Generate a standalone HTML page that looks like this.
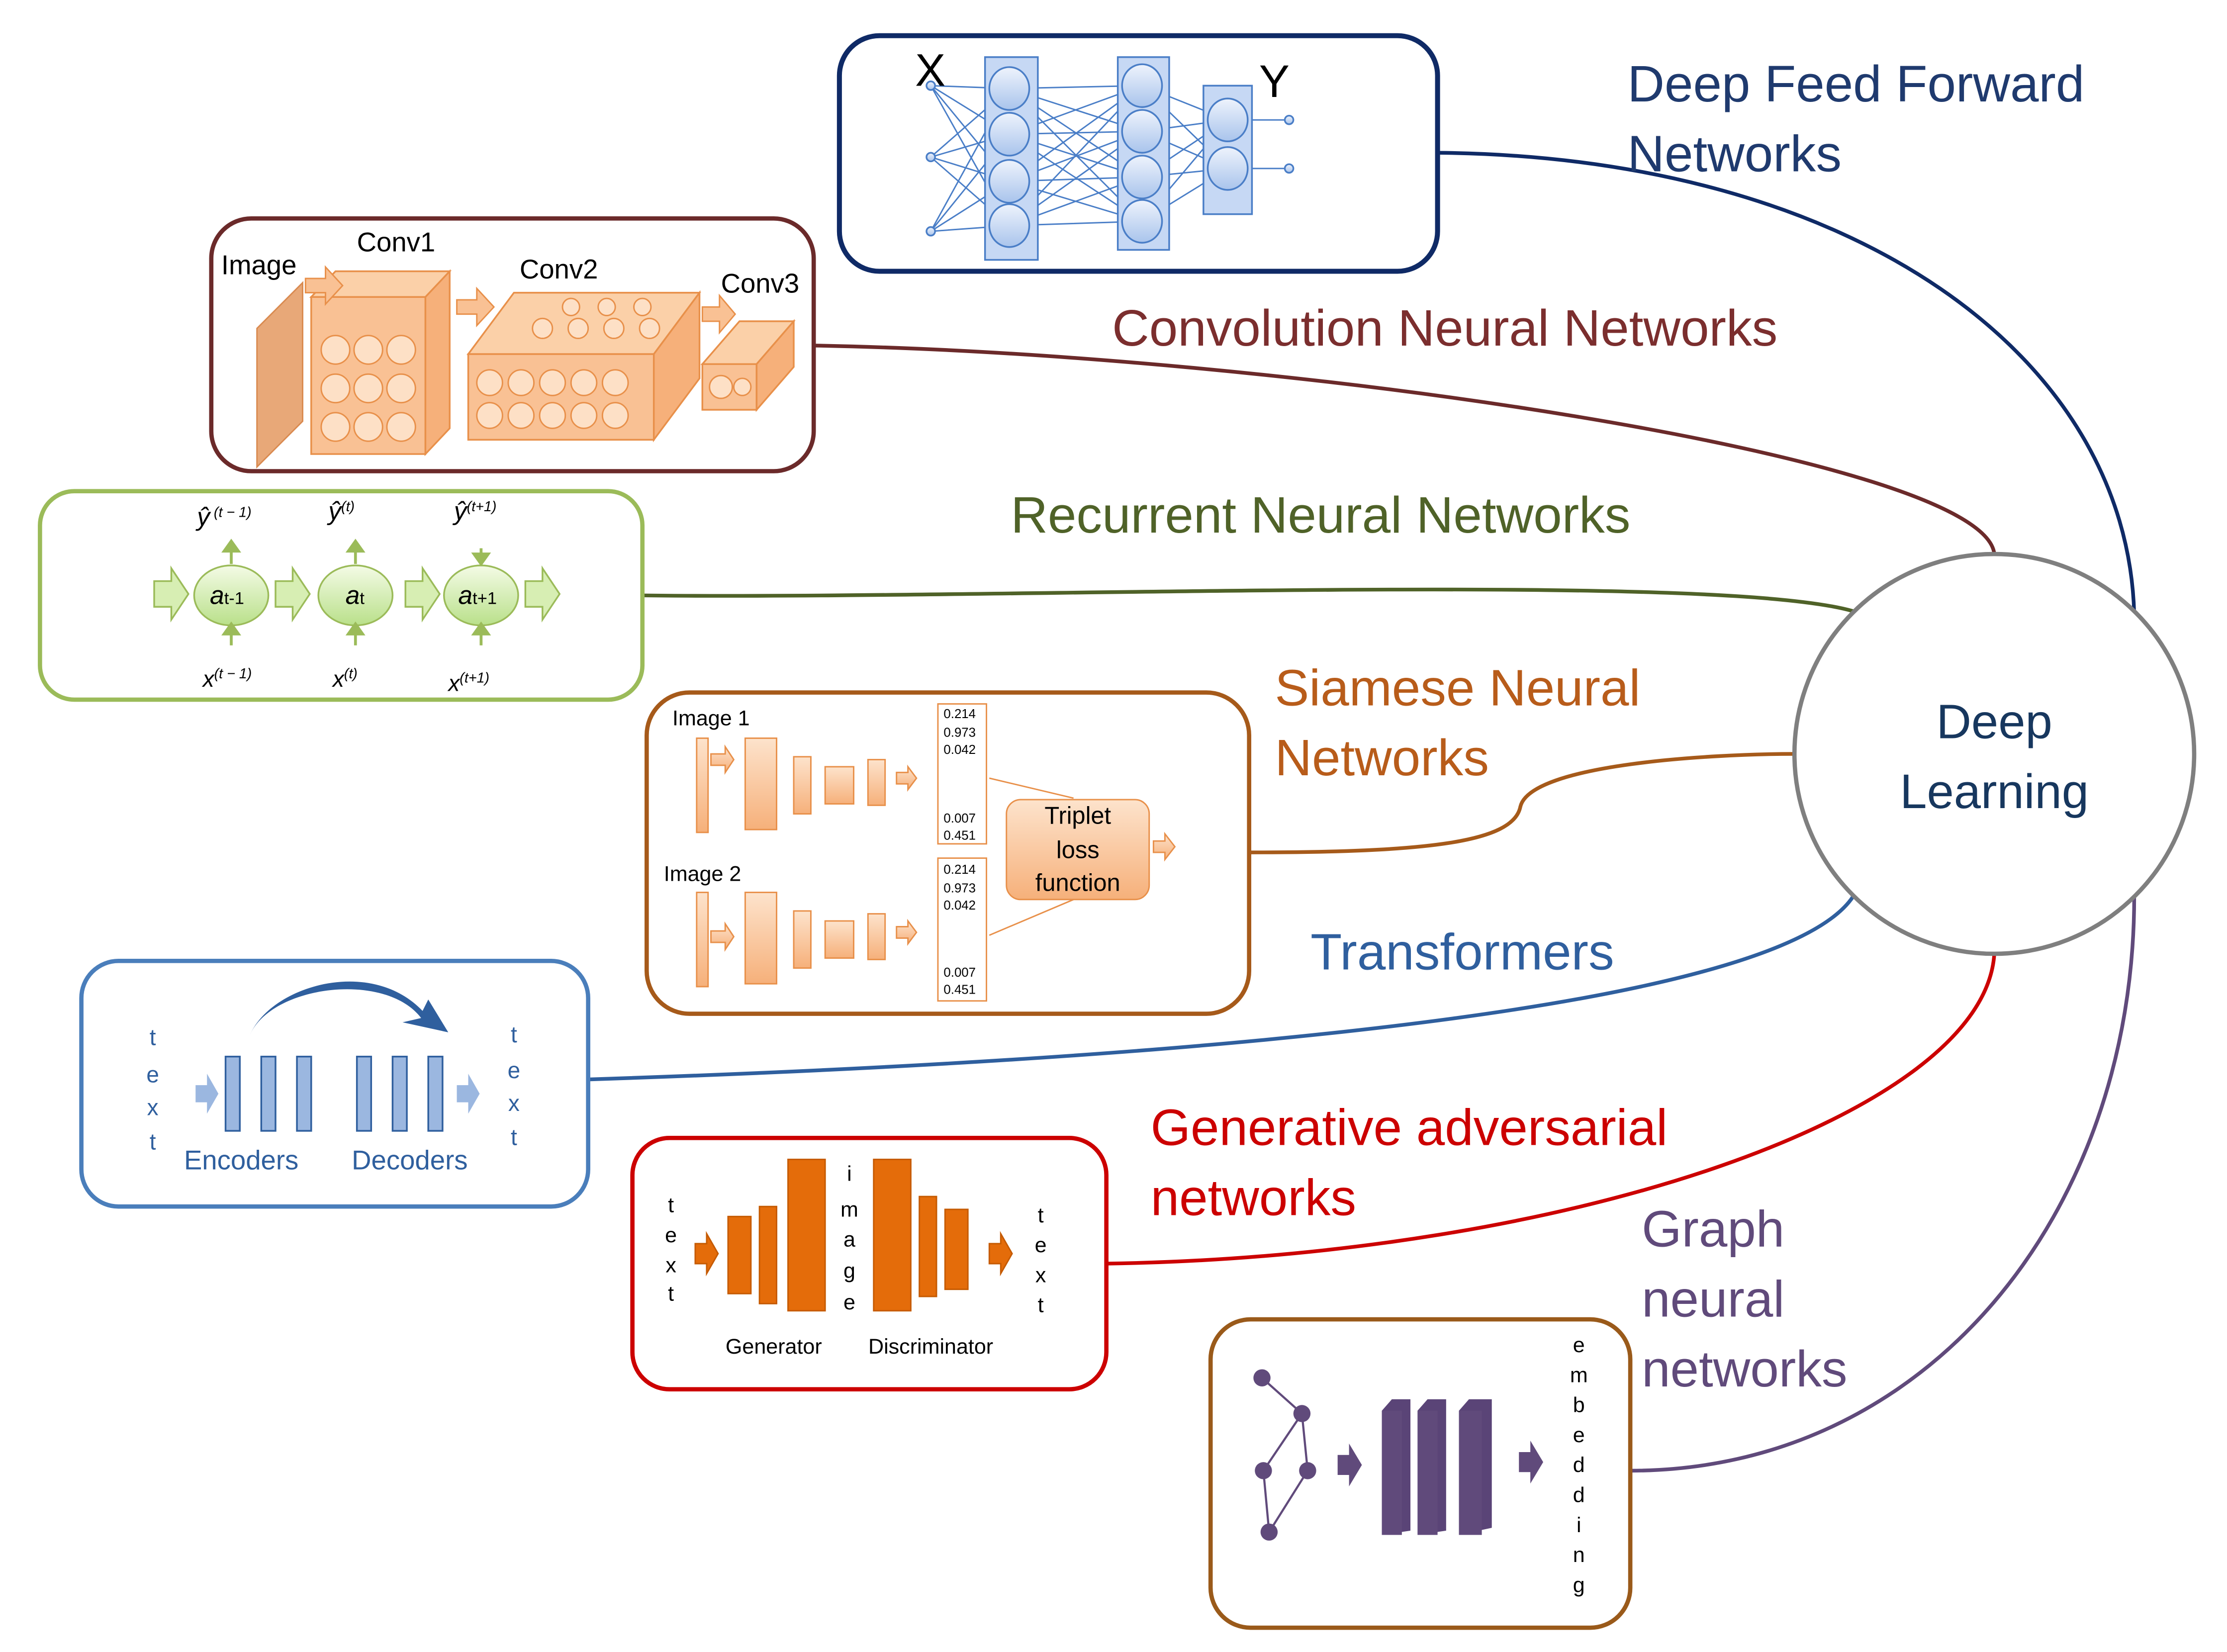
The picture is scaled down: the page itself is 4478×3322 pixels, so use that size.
<!DOCTYPE html>
<html><head><meta charset="utf-8"><style>
html,body{margin:0;padding:0;background:#fff;}
svg{display:block;}
text{font-family:"Liberation Sans","DejaVu Sans",sans-serif;}
</style></head><body>
<svg width="4478" height="3322" viewBox="0 0 1560 1157" preserveAspectRatio="none" xmlns="http://www.w3.org/2000/svg">
<defs>
<linearGradient id="bl" x1="0" y1="0" x2="0" y2="1"><stop offset="0" stop-color="#eef3fc"/><stop offset="1" stop-color="#a9c4ec"/></linearGradient>
<linearGradient id="gr" x1="0" y1="0" x2="0" y2="1"><stop offset="0" stop-color="#f4fbe6"/><stop offset="1" stop-color="#b9e08a"/></linearGradient>
<linearGradient id="or" x1="0" y1="0" x2="0" y2="1"><stop offset="0" stop-color="#fde3cc"/><stop offset="1" stop-color="#f6b07a"/></linearGradient>
</defs>

<!-- connectors -->
<g fill="none" stroke-width="2.6">
<path d="M1008,107 C1300,110 1490,250 1495,430" stroke="#0f2a66"/>
<path d="M570,242 C900,248 1390,320 1397,388" stroke="#6b2a2a"/>
<path d="M450,417 C700,420 1200,400 1298,428" stroke="#4f6228"/>
<path d="M875,597 C1000,597 1060,590 1065,565 C1072,535 1200,528 1257,528" stroke="#a65a1a"/>
<path d="M412,756 C900,740 1250,700 1298,628" stroke="#2f5f9e"/>
<path d="M775,885 C1100,880 1390,780 1397,668" stroke="#cc0000"/>
<path d="M1142,1030 C1350,1030 1495,850 1495,628" stroke="#604a7b"/>
</g>
<circle cx="1397" cy="528" r="140" fill="#fff" stroke="#7f7f7f" stroke-width="3"/>
<text x="1397" y="517" text-anchor="middle" font-size="34" fill="#17375e">Deep</text>
<text x="1397" y="566" text-anchor="middle" font-size="34" fill="#17375e">Learning</text>

<!-- labels -->
<g font-size="36">
<text x="1140" y="71" fill="#1f3a6e">Deep Feed Forward</text>
<text x="1140" y="120" fill="#1f3a6e">Networks</text>
<text x="779" y="242" fill="#7b2e2e">Convolution Neural Networks</text>
<text x="708" y="373" fill="#4f6228">Recurrent Neural Networks</text>
<text x="893" y="494" fill="#b85c1a">Siamese Neural</text>
<text x="893" y="543" fill="#b85c1a">Networks</text>
<text x="918" y="679" fill="#2f5f9e">Transformers</text>
<text x="806" y="802" fill="#cc0000">Generative adversarial</text>
<text x="806" y="851" fill="#cc0000">networks</text>
<text x="1150" y="873" fill="#604a7b">Graph</text>
<text x="1150" y="922" fill="#604a7b">neural</text>
<text x="1150" y="971" fill="#604a7b">networks</text>
</g>

<!-- DFF box -->
<rect x="588" y="25" width="419" height="165" rx="28" fill="#fff" stroke="#0f2a66" stroke-width="3.5"/>
<g stroke="#4a7ec7" stroke-width="1" fill="none">
<path d="M652,60 L707,62 M652,60 L707,94 M652,60 L707,127 M652,60 L707,158 M652,110 L707,62 M652,110 L707,94 M652,110 L707,127 M652,110 L707,158 M652,162 L707,62 M652,162 L707,94 M652,162 L707,127 M652,162 L707,158"/>
<path d="M707,62 L800,60 M707,62 L800,92 M707,62 L800,124 M707,62 L800,155 M707,94 L800,60 M707,94 L800,92 M707,94 L800,124 M707,94 L800,155 M707,127 L800,60 M707,127 L800,92 M707,127 L800,124 M707,127 L800,155 M707,158 L800,60 M707,158 L800,92 M707,158 L800,124 M707,158 L800,155"/>
<path d="M800,60 L860,84 M800,60 L860,118 M800,92 L860,84 M800,92 L860,118 M800,124 L860,84 M800,124 L860,118 M800,155 L860,84 M800,155 L860,118 M860,84 L900,84 M860,118 L900,118"/>
</g>
<g fill="#c6d8f4" stroke="#4a7ec7" stroke-width="1.2">
<rect x="690" y="40" width="37" height="142"/><rect x="783" y="40" width="36" height="135"/><rect x="843" y="60" width="34" height="90"/>
</g>
<g fill="url(#bl)" stroke="#4a7ec7" stroke-width="1.2">
<ellipse cx="707" cy="62" rx="14" ry="15"/><ellipse cx="707" cy="94" rx="14" ry="15"/><ellipse cx="707" cy="127" rx="14" ry="15"/><ellipse cx="707" cy="158" rx="14" ry="15"/>
<ellipse cx="800" cy="60" rx="14" ry="15"/><ellipse cx="800" cy="92" rx="14" ry="15"/><ellipse cx="800" cy="124" rx="14" ry="15"/><ellipse cx="800" cy="155" rx="14" ry="15"/>
<ellipse cx="860" cy="84" rx="14" ry="15"/><ellipse cx="860" cy="118" rx="14" ry="15"/>
<circle cx="652" cy="60" r="3"/><circle cx="652" cy="110" r="3"/><circle cx="652" cy="162" r="3"/><circle cx="903" cy="84" r="3"/><circle cx="903" cy="118" r="3"/>
</g>
<text x="641" y="60" font-size="32" fill="#000">X</text>
<text x="882" y="68" font-size="32" fill="#000">Y</text>

<!-- CNN box -->
<rect x="148" y="153" width="422" height="177" rx="28" fill="#fff" stroke="#6b2a2a" stroke-width="3"/>
<polygon points="180,230 212,198 212,295 180,327" fill="#e8a878" stroke="#d98a50"/>
<text x="155" y="192" font-size="19">Image</text>
<text x="250" y="176" font-size="19">Conv1</text>
<text x="364" y="195" font-size="19">Conv2</text>
<text x="505" y="205" font-size="19">Conv3</text>
<g stroke="#e8904a" stroke-width="1.2">
<polygon points="218,208 235,190 315,190 298,208" fill="#fbd0a8"/><rect x="218" y="208" width="80" height="110" fill="#f9c194"/><polygon points="298,208 315,190 315,300 298,318" fill="#f6b07a"/>
<polygon points="328,248 360,205 490,205 458,248" fill="#fbd0a8"/><rect x="328" y="248" width="130" height="60" fill="#f9c194"/><polygon points="458,248 490,205 490,265 458,308" fill="#f6b07a"/>
<polygon points="492,255 518,225 556,225 530,255" fill="#fbd0a8"/><rect x="492" y="255" width="38" height="32" fill="#f9c194"/><polygon points="530,255 556,225 556,257 530,287" fill="#f6b07a"/>
</g>
<g fill="#fde0c6" stroke="#e8904a" stroke-width="1">
<circle cx="235" cy="245" r="10"/><circle cx="258" cy="245" r="10"/><circle cx="281" cy="245" r="10"/><circle cx="235" cy="272" r="10"/><circle cx="258" cy="272" r="10"/><circle cx="281" cy="272" r="10"/><circle cx="235" cy="299" r="10"/><circle cx="258" cy="299" r="10"/><circle cx="281" cy="299" r="10"/>
<circle cx="343" cy="268" r="9"/><circle cx="365" cy="268" r="9"/><circle cx="387" cy="268" r="9"/><circle cx="409" cy="268" r="9"/><circle cx="431" cy="268" r="9"/>
<circle cx="343" cy="291" r="9"/><circle cx="365" cy="291" r="9"/><circle cx="387" cy="291" r="9"/><circle cx="409" cy="291" r="9"/><circle cx="431" cy="291" r="9"/>
<circle cx="380" cy="230" r="7"/><circle cx="405" cy="230" r="7"/><circle cx="430" cy="230" r="7"/><circle cx="455" cy="230" r="7"/><circle cx="400" cy="215" r="6"/><circle cx="425" cy="215" r="6"/><circle cx="450" cy="215" r="6"/>
<circle cx="505" cy="271" r="8"/><circle cx="520" cy="271" r="6"/>
</g>
<g fill="#f9c194" stroke="#e8904a"><polygon points="214,195 228,195 228,187 240,200 228,213 228,205 214,205"/><polygon points="320,210 334,210 334,202 346,215 334,228 334,220 320,220"/><polygon points="492,215 504,215 504,207 515,220 504,233 504,225 492,225"/></g>

<!-- RNN box -->
<rect x="28" y="344" width="422" height="146" rx="24" fill="#fff" stroke="#9bbb59" stroke-width="3"/>
<g fill="#d7eeb3" stroke="#9bbb59" stroke-width="1.2">
<polygon points="108,407 120,407 120,398 132,416 120,434 120,425 108,425"/>
<polygon points="193,407 205,407 205,398 217,416 205,434 205,425 193,425"/>
<polygon points="284,407 296,407 296,398 308,416 296,434 296,425 284,425"/>
<polygon points="368,407 380,407 380,398 392,416 380,434 380,425 368,425"/>
</g>
<g fill="url(#gr)" stroke="#9bbb59" stroke-width="1.2">
<ellipse cx="162" cy="417" rx="26" ry="21"/><ellipse cx="249" cy="417" rx="26" ry="21"/><ellipse cx="337" cy="417" rx="26" ry="21"/>
</g>
<g stroke="#9bbb59" stroke-width="2" fill="#9bbb59">
<path d="M162,395 V384 M249,395 V384 M337,395 V384 M162,452 V440 M249,452 V440 M337,452 V440"/>
<polygon points="157,386 167,386 162,379"/><polygon points="244,386 254,386 249,379"/><polygon points="332,388 342,388 337,395"/>
<polygon points="157,444 167,444 162,437"/><polygon points="244,444 254,444 249,437"/><polygon points="332,444 342,444 337,437"/>
</g>
<g font-family="Liberation Serif" font-style="italic" fill="#000">
<text x="147" y="423" font-size="18">a<tspan font-size="12" font-style="normal">t-1</tspan></text>
<text x="242" y="423" font-size="18">a<tspan font-size="12" font-style="normal">t</tspan></text>
<text x="321" y="423" font-size="18">a<tspan font-size="12" font-style="normal">t+1</tspan></text>
<text x="138" y="368" font-size="18">ŷ<tspan font-size="10" dy="-6"> (t − 1)</tspan></text>
<text x="230" y="364" font-size="18">ŷ<tspan font-size="10" dy="-6">(t)</tspan></text>
<text x="318" y="364" font-size="18">ŷ<tspan font-size="10" dy="-6">(t+1)</tspan></text>
<text x="142" y="481" font-size="16">x<tspan font-size="10" dy="-6">(t − 1)</tspan></text>
<text x="233" y="481" font-size="16">x<tspan font-size="10" dy="-6">(t)</tspan></text>
<text x="314" y="484" font-size="16">x<tspan font-size="10" dy="-6">(t+1)</tspan></text>
</g>

<!-- Siamese box -->
<rect x="453" y="485" width="422" height="225" rx="30" fill="#fff" stroke="#a65a1a" stroke-width="3"/>
<text x="471" y="508" font-size="15">Image 1</text>
<text x="465" y="617" font-size="15">Image 2</text>
<g fill="url(#or)" stroke="#e8904a" stroke-width="1">
<rect x="488" y="517" width="8" height="66"/><rect x="522" y="517" width="22" height="64"/><rect x="556" y="530" width="12" height="40"/><rect x="578" y="537" width="20" height="26"/><rect x="608" y="532" width="12" height="32"/>
<rect x="488" y="625" width="8" height="66"/><rect x="522" y="625" width="22" height="64"/><rect x="556" y="638" width="12" height="40"/><rect x="578" y="645" width="20" height="26"/><rect x="608" y="640" width="12" height="32"/>
<polygon points="498,528 508,528 508,523 514,532 508,541 508,536 498,536"/><polygon points="498,652 508,652 508,647 514,656 508,665 508,660 498,660"/>
<polygon points="628,541 636,541 636,537 642,545 636,553 636,549 628,549"/><polygon points="628,649 636,649 636,645 642,653 636,661 636,657 628,657"/>
<polygon points="808,589 816,589 816,584 823,593 816,602 816,597 808,597"/>
<rect x="705" y="560" width="100" height="70" rx="10"/>
</g>
<g fill="none" stroke="#e8904a" stroke-width="1"><rect x="657" y="493" width="34" height="98"/><rect x="657" y="601" width="34" height="100"/><path d="M693,545 L752,559 M693,655 L752,630"/></g>
<g font-size="9" fill="#000"><text x="661" y="503">0.214</text><text x="661" y="516">0.973</text><text x="661" y="528">0.042</text><text x="661" y="576">0.007</text><text x="661" y="588">0.451</text>
<text x="661" y="612">0.214</text><text x="661" y="625">0.973</text><text x="661" y="637">0.042</text><text x="661" y="684">0.007</text><text x="661" y="696">0.451</text></g>
<g font-size="17" text-anchor="middle"><text x="755" y="577">Triplet</text><text x="755" y="601">loss</text><text x="755" y="624">function</text></g>

<!-- Transformer box -->
<rect x="57" y="673" width="355" height="172" rx="26" fill="#fff" stroke="#4a7ebb" stroke-width="3"/>
<path d="M175,725 C190,690 270,680 295,713 L282,716 L314,723 L300,700 L296,708 C260,670 190,690 175,725 Z" fill="#2f5f9e"/>
<g fill="#9bb7e0" stroke="#2f5f9e" stroke-width="1.2">
<rect x="158" y="740" width="10" height="52"/><rect x="183" y="740" width="10" height="52"/><rect x="208" y="740" width="10" height="52"/>
<rect x="250" y="740" width="10" height="52"/><rect x="275" y="740" width="10" height="52"/><rect x="300" y="740" width="10" height="52"/>
</g>
<g fill="#9bb7e0"><polygon points="137,760 145,760 145,752 153,766 145,780 145,772 137,772"/><polygon points="320,760 328,760 328,752 336,766 328,780 328,772 320,772"/></g>
<g font-size="16" fill="#2f5f9e" text-anchor="middle"><text x="107" y="732">t</text><text x="107" y="758">e</text><text x="107" y="781">x</text><text x="107" y="805">t</text><text x="360" y="730">t</text><text x="360" y="755">e</text><text x="360" y="778">x</text><text x="360" y="802">t</text></g>
<text x="169" y="819" font-size="19" fill="#2f5f9e" text-anchor="middle">Encoders</text>
<text x="287" y="819" font-size="19" fill="#2f5f9e" text-anchor="middle">Decoders</text>

<!-- GAN box -->
<rect x="443" y="797" width="332" height="176" rx="26" fill="#fff" stroke="#cc0000" stroke-width="3"/>
<g fill="#e46c0a" stroke="#c55a00" stroke-width="1">
<rect x="510" y="852" width="16" height="54"/><rect x="532" y="845" width="12" height="68"/><rect x="552" y="812" width="26" height="106"/>
<rect x="612" y="812" width="26" height="106"/><rect x="644" y="838" width="12" height="70"/><rect x="662" y="847" width="16" height="56"/>
<polygon points="487,871 495,871 495,864 503,878 495,892 495,885 487,885"/><polygon points="693,871 701,871 701,864 709,878 701,892 701,885 693,885"/>
</g>
<g font-size="15" text-anchor="middle"><text x="470" y="849">t</text><text x="470" y="870">e</text><text x="470" y="891">x</text><text x="470" y="911">t</text>
<text x="595" y="827">i</text><text x="595" y="852">m</text><text x="595" y="873">a</text><text x="595" y="895">g</text><text x="595" y="917">e</text>
<text x="729" y="856">t</text><text x="729" y="877">e</text><text x="729" y="898">x</text><text x="729" y="919">t</text>
<text x="542" y="948">Generator</text><text x="652" y="948">Discriminator</text></g>

<!-- GNN box -->
<rect x="848" y="924" width="294" height="216" rx="28" fill="#fff" stroke="#9a5a1a" stroke-width="3"/>
<g stroke="#604a7b" stroke-width="1.5" fill="none"><path d="M884,965 L912,990 L916,1030 L889,1073 L885,1030 L912,990"/></g>
<g fill="#604a7b"><circle cx="884" cy="965" r="6"/><circle cx="912" cy="990" r="6"/><circle cx="916" cy="1030" r="6"/><circle cx="885" cy="1030" r="6"/><circle cx="889" cy="1073" r="6"/>
<polygon points="937,1019 945,1019 945,1011 954,1026 945,1041 945,1033 937,1033"/><polygon points="1064,1017 1072,1017 1072,1009 1081,1024 1072,1039 1072,1031 1064,1031"/>
<polygon points="968,988 975,980 988,980 988,1072 968,1075" fill="#5a4477"/><polygon points="993,988 1000,980 1013,980 1013,1072 993,1075" fill="#5a4477"/><polygon points="1022,988 1029,980 1045,980 1045,1070 1022,1075" fill="#5a4477"/>
<rect x="968" y="988" width="14" height="87"/><rect x="993" y="988" width="14" height="87"/><rect x="1022" y="988" width="16" height="87"/></g>
<g font-size="15" text-anchor="middle"><text x="1106" y="947">e</text><text x="1106" y="968">m</text><text x="1106" y="989">b</text><text x="1106" y="1010">e</text><text x="1106" y="1031">d</text><text x="1106" y="1052">d</text><text x="1106" y="1073">i</text><text x="1106" y="1094">n</text><text x="1106" y="1115">g</text></g>
</svg>
</body></html>
